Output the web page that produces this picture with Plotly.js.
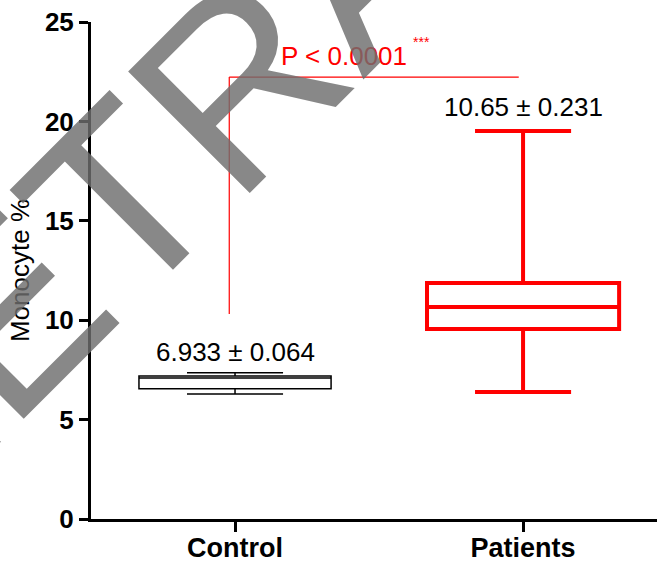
<!DOCTYPE html>
<html>
<head>
<meta charset="utf-8">
<script src="https://cdn.plot.ly/plotly-3.0.1.min.js"></script>
<style>html,body{margin:0;padding:0;background:#fff;}#chart{width:657px;height:565px;}</style>
</head>
<body>
<div id="chart"></div>
<script>
// Data
const categories = ['Control', 'Patients'];
const lowerWhisker = [6.29, 6.39];
const q1Values = [6.55, 9.56];
const medianValues = [7.09, 10.66];
const q3Values = [7.19, 11.87];
const upperWhisker = [7.36, 19.52];
const meanLabels = ['6.933 ± 0.064', '10.65 ± 0.231'];
const yTicks = [0, 5, 10, 15, 20, 25];
const pText = 'P < 0.0001';
const starText = '***';
const watermarkText = 'RETRACTED';

const FONT = 'Arial, "Liberation Sans", sans-serif';
const colors = ['#000000', '#ff0000'];
const lineWidths = [1.5, 4];

const traces = categories.map((c, i) => ({
  type: 'box',
  name: c,
  x: [c],
  q1: [q1Values[i]],
  median: [medianValues[i]],
  q3: [q3Values[i]],
  lowerfence: [lowerWhisker[i]],
  upperfence: [upperWhisker[i]],
  boxpoints: false,
  width: 0.667,
  whiskerwidth: 0.5,
  fillcolor: 'rgba(255,255,255,0)',
  line: {color: colors[i], width: lineWidths[i]},
  hoverinfo: 'skip',
  showlegend: false
}));

const labelY = [8.4, 20.72];
const annotations = categories.map((c, i) => ({
  x: c, y: labelY[i], xref: 'x', yref: 'y',
  text: meanLabels[i], showarrow: false,
  xanchor: 'center', yanchor: 'middle',
  font: {family: FONT, size: 26, color: '#000'}
}));
annotations.push({
  x: 0.378, y: 23.29, xref: 'x', yref: 'y', text: pText, showarrow: false,
  xanchor: 'center', yanchor: 'middle', font: {family: FONT, size: 26, color: '#ff0000'}
});
annotations.push({
  x: 0.649, y: 24.0, xref: 'x', yref: 'y', text: starText, showarrow: false,
  xanchor: 'center', yanchor: 'middle', font: {family: FONT, size: 14, color: '#ff0000'}
});
annotations.push({
  x: 0.477, y: 1.125, xref: 'paper', yref: 'paper', text: watermarkText, showarrow: false,
  xanchor: 'center', yanchor: 'middle', textangle: -45,
  font: {family: FONT, size: 250, color: 'rgba(110,110,110,0.82)'}
});

const layout = {
  width: 657, height: 565,
  margin: {l: 91, r: 0, t: 22, b: 46, pad: 0},
  paper_bgcolor: '#fff', plot_bgcolor: '#fff',
  showlegend: false,
  xaxis: {
    type: 'category', range: [-0.5, 1.465],
    showline: true, linecolor: '#000', linewidth: 3,
    ticks: 'outside', ticklen: 10, tickwidth: 3, tickcolor: '#000',
    ticklabelstandoff: -7,
    showgrid: false, zeroline: false,
    tickfont: {family: FONT, size: 27, color: '#000', weight: 'bold'}
  },
  yaxis: {
    range: [0, 25], tickvals: yTicks, ticktext: yTicks.map(String),
    showline: true, linecolor: '#000', linewidth: 3,
    ticks: 'outside', ticklen: 9, tickwidth: 3, tickcolor: '#000',
    showgrid: false, zeroline: false,
    tickfont: {family: FONT, size: 26, color: '#000', weight: 'bold'},
    title: {text: 'Monocyte %', font: {family: FONT, size: 26, color: '#000'}, standoff: 8}
  },
  shapes: [
    {type: 'line', xref: 'x', yref: 'y', x0: -0.02, x1: 0.985, y0: 22.23, y1: 22.23, line: {color: '#ff0000', width: 1.2}},
    {type: 'line', xref: 'x', yref: 'y', x0: -0.02, x1: -0.02, y0: 22.23, y1: 10.31, line: {color: '#ff0000', width: 1.2}}
  ],
  annotations: annotations
};

Plotly.newPlot('chart', traces, layout, {displayModeBar: false, staticPlot: true});
</script>
</body>
</html>
